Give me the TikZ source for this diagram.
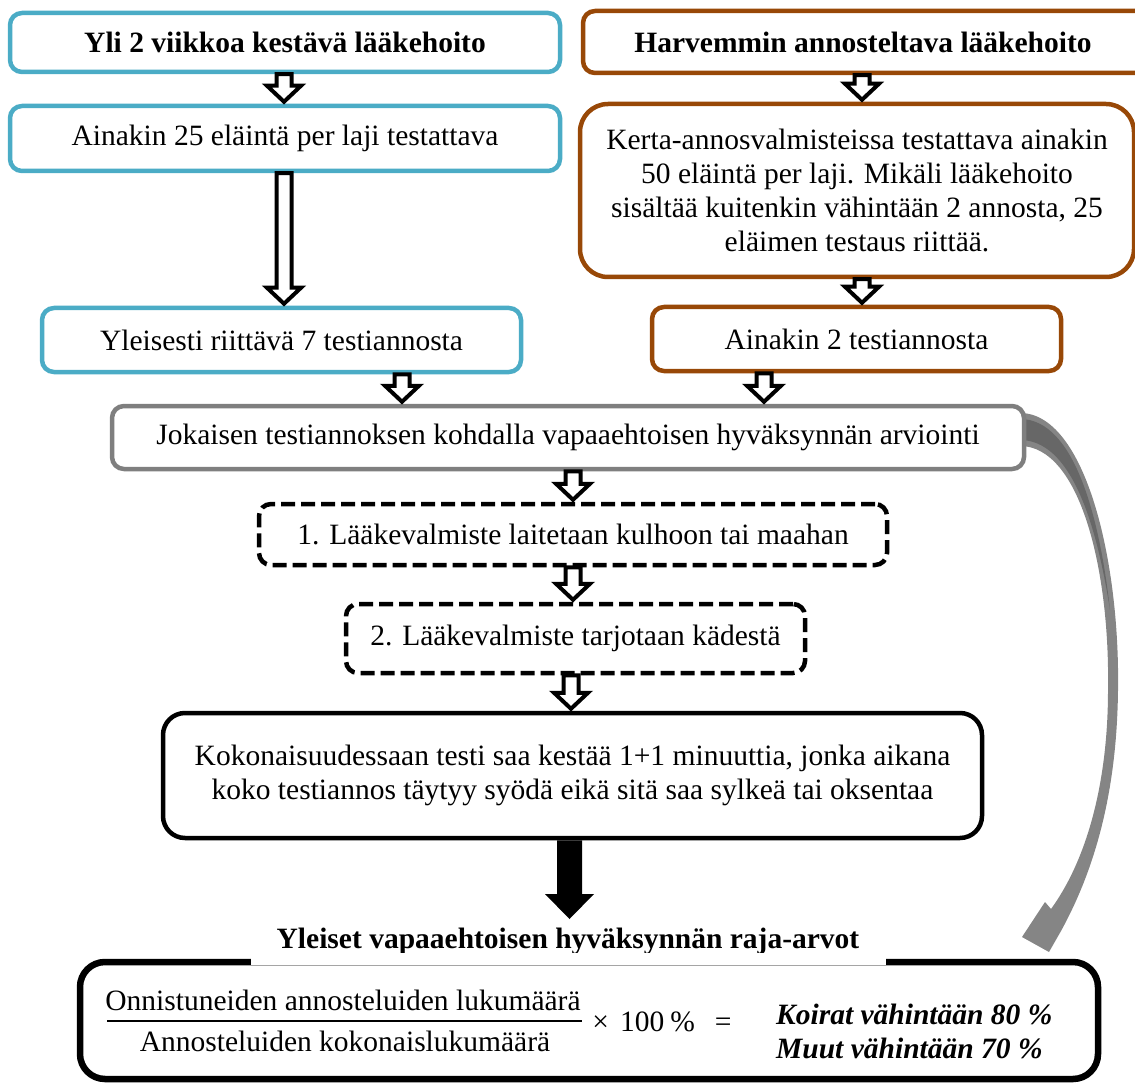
\documentclass[tikz,border=0pt]{standalone}
\usepackage{fontspec}
\setmainfont{Liberation Serif}
\usetikzlibrary{calc}
\definecolor{cblue}{HTML}{4BACC6}
\definecolor{cbrown}{HTML}{984807}
\definecolor{cgray}{HTML}{7F7F7F}
\definecolor{arrgray}{HTML}{858585}
\definecolor{arrdark}{HTML}{676767}
\tikzset{
  txt/.style={font=\fontsize{29.5}{34}\selectfont},
  box/.style={txt, rectangle, rounded corners=12pt, line width=4.5pt, fill=white, inner sep=0pt, align=center},
  bluebox/.style={box, draw=cblue},
  brownbox/.style={box, draw=cbrown},
  graybox/.style={box, draw=cgray},
  dashbox/.style={box, draw=black, line width=4.5pt, dash pattern=on 14pt off 6pt},
  blackbox/.style={box, draw=black, rounded corners=22pt},
  hollowarr/.style={draw=black, fill=white, line width=4pt, miter limit=10},
}
\newcommand\hollowarrow[3]{%
  \draw[hollowarr] let \p1=(#2.south), \p2=(#3.north) in
    ({#1pt-7.5pt},{\y1}) -- ({#1pt+7.5pt},{\y1}) -- ({#1pt+7.5pt},{\y2+18pt}) --
    ({#1pt+17pt},{\y2+18pt}) -- ({#1pt},{\y2+2pt}) -- ({#1pt-17pt},{\y2+18pt}) --
    ({#1pt-7.5pt},{\y2+18pt}) -- cycle;}
\begin{document}
\begin{tikzpicture}[x=1pt,y=-1pt]
\useasboundingbox (0,0) rectangle (1135,1083);
\clip (0,0) rectangle (1135,1083);

% curved gray arrow
\fill[arrgray] (1020,413) .. controls (1085,413) and (1120,560) .. (1118,690)
  .. controls (1117,780) and (1100,860) .. (1061,931)
  -- (1049,952) -- (1022,937) -- (1045,902) -- (1051,909)
  .. controls (1088,858) and (1108,780) .. (1108,690)
  .. controls (1110,570) and (1080,446) .. (1020,446) -- cycle;
\fill[arrdark] (1020,419) .. controls (1075,419) and (1100,520) .. (1110,610)
  .. controls (1096,520) and (1070,440) .. (1020,440) -- cycle;

% boxes
\node[bluebox, minimum width=550pt, minimum height=59pt] (A) at (285,42.5) {\bfseries Yli 2 viikkoa kestävä lääkehoito};
\node[bluebox, minimum width=550pt, minimum height=65pt] (B) at (285,138.5) {Ainakin 25 eläintä per laji testattava};
\node[bluebox, minimum width=479pt, minimum height=64pt] (C) at (281.5,340) {Yleisesti riittävä 7 testiannosta};
\node[brownbox, minimum width=575pt, minimum height=62pt] (D) at (870.5,42) {};
\node[txt, font=\fontsize{29.5}{34}\selectfont\bfseries] (Dt) at (863,42) {Harvemmin annosteltava lääkehoito};
\node[brownbox, rounded corners=28pt, minimum width=554pt, minimum height=173pt] (E) at (857,190.5)
  {Kerta-annosvalmisteissa testattava ainakin\\50 eläintä per laji. Mikäli lääkehoito\\sisältää kuitenkin vähintään 2 annosta, 25\\eläimen testaus riittää.};
\node[brownbox, minimum width=409pt, minimum height=64pt] (F) at (856.5,339) {Ainakin 2 testiannosta};
\node[graybox, minimum width=912pt, minimum height=63pt] (G) at (568,437.5) {Jokaisen testiannoksen kohdalla vapaaehtoisen hyväksynnän arviointi};
\node[dashbox, minimum width=628pt, minimum height=61pt] (H) at (573,534.5) {1. Lääkevalmiste laitetaan kulhoon tai maahan};
\node[dashbox, minimum width=459pt, minimum height=69pt] (I) at (575.5,638.5) {2. Lääkevalmiste tarjotaan kädestä};
\node[blackbox, minimum width=819pt, minimum height=125pt] (J) at (572.5,775.5)
  {Kokonaisuudessaan testi saa kestää 1+1 minuuttia, jonka aikana\\koko testiannos täytyy syödä eikä sitä saa sylkeä tai oksentaa};

% bottom box
\node[draw=black, line width=6.5pt, rounded corners=25pt, minimum width=1018pt, minimum height=117pt, inner sep=0pt] (K) at (589,1020.5) {};
\node[txt, font=\fontsize{29.5}{34}\selectfont\bfseries, inner sep=0pt] (Ktitle) at (568,941) {Yleiset vapaaehtoisen hyväksynnän raja-arvot};
\fill[white] ($(Ktitle.west |- K.north)+(-25,-6)$) rectangle ($(Ktitle.east |- K.north)+(26,6)$);
\node[txt, inner sep=0pt] (num) at (343,1000) {Onnistuneiden annosteluiden lukumäärä};
\node[txt, inner sep=0pt] (den) at (345,1041) {Annosteluiden kokonaislukumäärä};
\draw[line width=2.5pt] (107,1021) coordinate (fl) -- (582,1021) coordinate (fr);
\node[txt, inner sep=0pt] (times) at (662,1022) {×\hspace{11pt}100\hspace{6pt}\%\hspace{20pt}=};
\node[txt, font=\fontsize{29.5}{34}\selectfont\bfseries\itshape, inner sep=0pt, anchor=west] (dogs) at (776,1014) {Koirat vähintään 80 \%};
\node[txt, font=\fontsize{29.5}{34}\selectfont\bfseries\itshape, inner sep=0pt, anchor=west] (others) at (776,1048) {Muut vähintään 70 \%};

% hollow arrows
\hollowarrow{284}{A}{B}
\hollowarrow{284}{B}{C}
\hollowarrow{862}{D}{E}
\hollowarrow{862}{E}{F}
\hollowarrow{402}{C}{G}
\hollowarrow{764}{F}{G}
\hollowarrow{573}{G}{H}
\hollowarrow{573}{H}{I}
\hollowarrow{571}{I}{J}

% big black arrow
\coordinate (Ktip) at (569.5,919);
\fill[black] let \p1=(J.south), \p2=(Ktip) in
  ({\x2-12.5pt},{\y1}) -- ({\x2+12.5pt},{\y1}) -- ({\x2+12.5pt},{\y2+25pt}) -- ({\x2+24.5pt},{\y2+25pt})
  -- (Ktip) -- ({\x2-24.5pt},{\y2+25pt}) -- ({\x2-12.5pt},{\y2+25pt}) -- cycle;
\end{tikzpicture}
\end{document}
